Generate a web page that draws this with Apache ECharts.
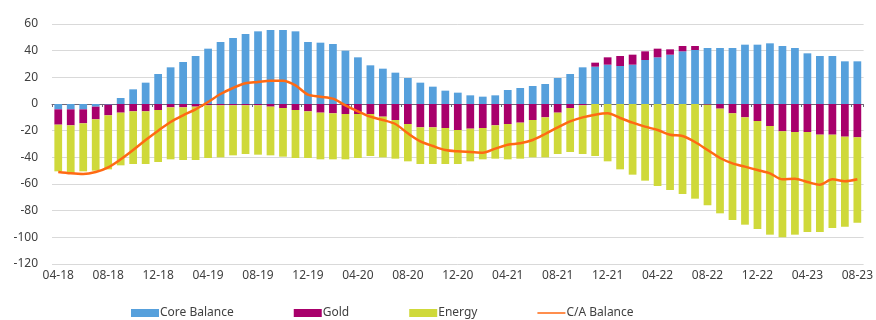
<!DOCTYPE html>
<html>
<head>
<meta charset="utf-8">
<script src="https://cdn.jsdelivr.net/npm/echarts@6/dist/echarts.min.js"></script>
<style>
  html, body { margin: 0; padding: 0; background: #fff; }
  #chart { width: 876px; height: 320px; }
</style>
</head>
<body>
<div id="chart"></div>
<script>
const months = [
  '04-18', '05-18', '06-18', '07-18', '08-18', '09-18', '10-18', '11-18', '12-18',
  '01-19', '02-19', '03-19', '04-19', '05-19', '06-19', '07-19', '08-19', '09-19', '10-19', '11-19', '12-19',
  '01-20', '02-20', '03-20', '04-20', '05-20', '06-20', '07-20', '08-20', '09-20', '10-20', '11-20', '12-20',
  '01-21', '02-21', '03-21', '04-21', '05-21', '06-21', '07-21', '08-21', '09-21', '10-21', '11-21', '12-21',
  '01-22', '02-22', '03-22', '04-22', '05-22', '06-22', '07-22', '08-22', '09-22', '10-22', '11-22', '12-22',
  '01-23', '02-23', '03-23', '04-23', '05-23', '06-23', '07-23', '08-23'
]

const coreBalance = [
  -4, -4, -4, -2, -0.5, 4.5, 11, 16, 22.5,
  27.5, 31.5, 36, 41.5, 46.5, 49.5, 52.5, 54.5, 55.5, 55.5, 54.5, 46.5,
  46, 45, 40, 35, 29, 26.5, 23.5, 19.5, 16, 13, 10, 8.5,
  6.5, 5.5, 6.5, 10.5, 12, 13.5, 15, 19.5, 22.5, 27.5, 28, 29.5,
  28.5, 29.5, 33, 35, 37, 39.5, 40.5, 42, 42, 42, 44.5, 44.5,
  45.5, 43.5, 42, 38, 36, 36, 32, 32
]

const gold = [
  -11.5, -12, -10.5, -9.5, -8, -6.5, -5.5, -5.5, -4.5,
  -2.5, -2.5, -2, -1, -1, -1, -1, -1, -2, -3, -4.5, -5.5,
  -6.5, -7, -7.5, -7.5, -7.5, -9.5, -12, -15, -17.5, -17.5, -18, -19.5,
  -18.5, -18, -16, -15, -14, -12, -10, -6.5, -3, -1, 3, 5.5,
  7.5, 7.5, 6.5, 6.5, 4, 4, 3, -0.5, -3.5, -7, -10, -12.75,
  -16.5, -20.5, -21, -21, -23, -23, -24.5, -25
]

const energy = [
  -35, -36, -36, -38.5, -40.5, -39.5, -39.5, -39.5, -39,
  -39, -39.5, -40, -39.5, -39, -37.5, -36.5, -37, -36.5, -36.5, -36, -35,
  -35, -34.5, -34, -33, -31.5, -30.5, -29, -28, -27.5, -27.5, -27, -25.5,
  -24.5, -23.5, -25, -26.5, -27, -28, -30, -31, -33, -36.5, -39, -43,
  -49, -53, -57.5, -61.5, -64.5, -67.5, -71, -75.5, -78.5, -80, -80.5, -81,
  -81.5, -79.5, -77, -75, -73, -70, -67.5, -64
]

const caBalance = [
  -51, -52, -52.5, -51, -47.5, -41.5, -34.5, -27, -20,
  -13.5, -8.5, -4, 1.5, 7.5, 12, 15.5, 16.5, 17.5, 17.5, 14, 7,
  5.5, 4, -1, -5.5, -9.5, -12, -15, -22, -28, -31.5, -34.5, -35.5,
  -36, -36.5, -33.5, -30.5, -29.5, -27, -22.5, -17.5, -13, -10, -8, -7,
  -10.5, -14, -17, -19.5, -23, -24, -28.5, -34.5, -40.5, -44.5, -47, -49.5,
  -52, -56.5, -56, -58.5, -60.5, -56.5, -58, -56.5
]

const yTicks = { min: -120, max: 60, interval: 20 }

const chart = echarts.init(document.getElementById('chart'))
const font = 'Noto Sans'
const txt = '#404040'
// thin line icon; the two specks keep the box 28x8 so the bar is not stretched
const lineIcon = 'path://M0,0L0.01,0L0,0.01Z M0,3.2H28V4.8H0Z M28,8L27.99,8L28,7.99Z'

chart.setOption({
  animation: false,
  textStyle: { fontFamily: font },
  grid: { left: 52, right: 11, top: 24, bottom: 56 },
  legend: {
    left: 126,
    top: 302,
    itemWidth: 28,
    itemHeight: 8,
    itemGap: 60,
    textStyle: { color: txt, fontSize: 12, fontFamily: font, padding: [0, 0, 0, -4] },
    data: [
      { name: 'Core Balance', icon: 'rect' },
      { name: 'Gold', icon: 'rect' },
      { name: 'Energy', icon: 'rect' },
      { name: 'C/A Balance', icon: lineIcon }
    ]
  },
  xAxis: [
    {
      type: 'category',
      data: months,
      position: 'bottom',
      axisLine: { show: false, onZero: false },
      axisTick: { show: false },
      axisLabel: { interval: 3, color: txt, fontSize: 12, margin: 6 }
    },
    {
      type: 'category',
      data: months,
      position: 'bottom',
      axisLine: { show: true, onZero: true, lineStyle: { color: '#6f6878', width: 1 } },
      axisTick: { show: true, interval: 3, length: 3, lineStyle: { color: '#6f6878' } },
      axisLabel: { show: false }
    }
  ],
  yAxis: {
    type: 'value',
    min: yTicks.min,
    max: yTicks.max,
    interval: yTicks.interval,
    axisLine: { show: false },
    axisTick: { show: false },
    axisLabel: { color: txt, fontSize: 12, margin: 14 },
    splitLine: { lineStyle: { color: '#d9d9d9', width: 1 } }
  },
  series: [
    {
      name: 'Core Balance',
      type: 'bar',
      stack: 'ca',
      data: coreBalance,
      barCategoryGap: '38%',
      itemStyle: { color: '#56a0dc' }
    },
    {
      name: 'Gold',
      type: 'bar',
      stack: 'ca',
      data: gold,
      itemStyle: { color: '#a8006b' }
    },
    {
      name: 'Energy',
      type: 'bar',
      stack: 'ca',
      data: energy,
      itemStyle: { color: '#cfd93a' }
    },
    {
      name: 'C/A Balance',
      type: 'line',
      data: caBalance,
      smooth: 0.3,
      symbol: 'none',
      z: 5,
      lineStyle: { color: '#ff6a13', width: 2.5 },
      itemStyle: { color: '#ff6a13' }
    }
  ]
})
</script>
</body>
</html>
